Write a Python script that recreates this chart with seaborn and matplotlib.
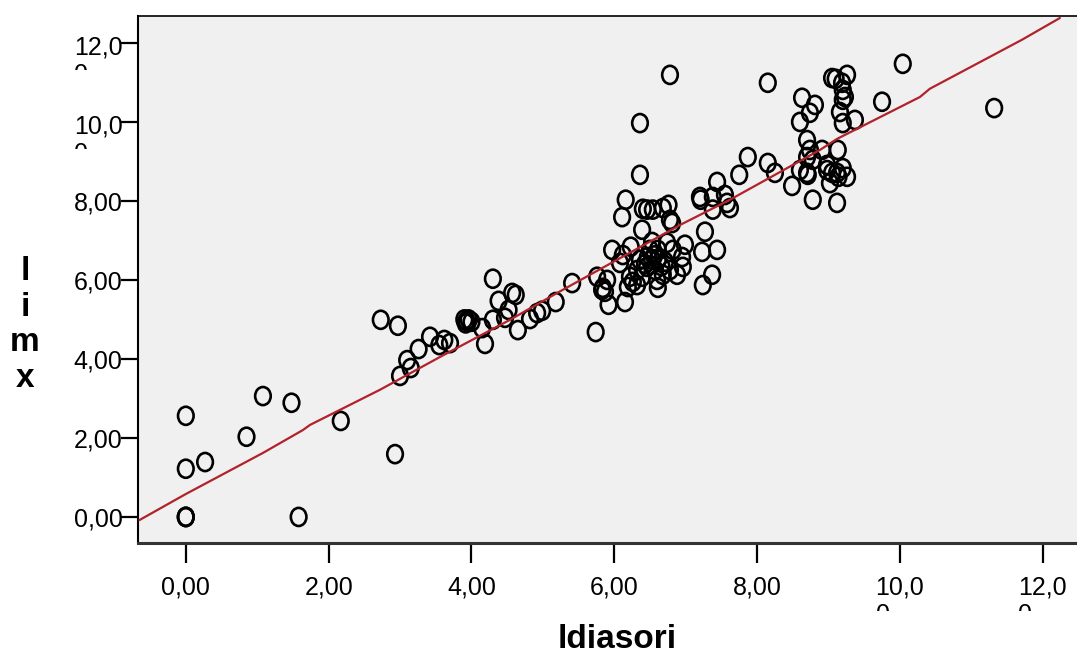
import matplotlib
matplotlib.use("Agg")
import matplotlib.pyplot as plt
import seaborn as sns
from matplotlib.path import Path
from matplotlib.transforms import Affine2D, Bbox, ScaledTranslation

# scatter values
ldiasori = [0.0, 0.0, 0.0, 1.58, 0.0, 0.27, 0.0, 0.85, 1.08, 1.48, 2.17, 2.93,
            2.73, 2.97, 3.0, 3.10, 3.15, 3.26, 3.42, 3.55, 3.62, 3.70,
            3.90, 3.93, 3.96, 3.92, 4.00, 4.15, 4.19, 4.30, 4.38, 4.30, 4.47,
            4.52, 4.57, 4.62, 4.65, 4.82, 4.92, 4.99, 5.18, 5.41, 5.74, 5.76,
            5.83, 5.87, 5.90, 5.92, 5.97,
            6.36, 6.16, 6.11, 6.40, 6.46, 6.54, 6.68, 6.76, 6.78, 6.81, 6.39,
            6.53, 6.23, 6.12, 6.08, 6.36, 6.50, 6.61, 6.74, 6.82, 6.99, 6.95,
            6.96, 6.78, 6.71, 6.61, 6.53, 6.46, 6.32, 6.22, 5.84, 6.15, 6.19,
            6.32, 6.39, 6.47, 6.57, 6.60, 6.61, 6.68, 6.88, 6.26, 6.43, 6.56,
            6.66,
            7.27, 7.23, 7.44, 7.37, 7.24, 7.20, 7.21, 7.44, 7.38, 7.55, 7.38,
            7.58, 7.62, 7.87, 7.75,
            8.15, 8.25, 8.49, 8.60, 8.70, 8.78, 9.12, 9.02, 9.26, 9.12, 8.98,
            9.20, 8.98, 9.05, 9.14, 8.71, 8.78, 8.70, 8.74, 8.70, 8.91, 9.13,
            8.15, 8.63, 8.81, 8.74, 8.60, 9.05, 9.10, 9.26, 9.19, 9.20, 9.23,
            9.20, 9.16, 9.20, 9.37, 9.75, 6.78, 6.36, 10.04, 11.32]
limx = [0.0, 0.0, 0.0, 0.0, 1.22, 1.39, 2.56, 2.03, 3.06, 2.89, 2.43, 1.59,
        4.99, 4.84, 3.57, 3.97, 3.77, 4.25, 4.56, 4.35, 4.48, 4.40,
        5.00, 4.96, 5.00, 4.90, 4.94, 4.78, 4.38, 6.03, 5.47, 4.99, 5.04,
        5.24, 5.67, 5.62, 4.73, 5.01, 5.16, 5.22, 5.44, 5.92, 4.68, 6.08,
        5.75, 5.70, 6.00, 5.37, 6.76,
        8.66, 8.03, 7.59, 7.80, 7.78, 7.78, 7.82, 7.90, 7.52, 7.44, 7.27,
        6.96, 6.84, 6.63, 6.43, 6.51, 6.76, 6.76, 6.94, 6.76, 6.89, 6.58,
        6.33, 6.25, 6.46, 6.51, 6.51, 6.33, 6.25, 6.08, 5.80, 5.44, 5.82,
        5.87, 6.08, 6.58, 6.25, 6.00, 5.80, 6.13, 6.13, 5.95, 6.40, 6.62,
        6.35,
        7.22, 6.71, 6.76, 6.13, 5.87, 8.10, 8.03, 8.48, 8.10, 8.15, 7.78,
        7.95, 7.82, 9.11, 8.66,
        8.96, 8.71, 8.38, 8.78, 8.71, 8.03, 7.95, 8.45, 8.61, 8.71, 8.78,
        8.83, 8.91, 8.71, 8.61, 8.66, 9.04, 9.11, 9.29, 9.54, 9.29, 9.29,
        10.99, 10.61, 10.43, 10.23, 10.00, 11.11, 11.09, 11.19, 10.99, 10.81, 10.63,
        10.56, 10.25, 9.97, 10.05, 10.51, 11.19, 9.97, 11.47, 10.35]

# fit line (loess-like)
fit_x = [-0.65, 0.0, 1.08, 1.64, 1.74, 2.72, 3.56, 4.54, 5.20, 6.04, 6.92,
         7.62, 8.88, 9.12, 10.28, 10.42, 11.71, 12.24]
fit_y = [-0.08, 0.58, 1.62, 2.20, 2.33, 3.22, 4.05, 4.99, 5.67, 6.51, 7.39,
         8.03, 9.29, 9.57, 10.63, 10.84, 12.08, 12.63]

ticks = [0, 2, 4, 6, 8, 10, 12]
tick_labels = ["0,00", "2,00", "4,00", "6,00", "8,00", "10,0\n0", "12,0\n0"]

sns.set_style("white")
plt.rcParams["font.family"] = ["Liberation Sans", "DejaVu Sans"]
plt.rcParams["text.color"] = "black"
plt.rcParams["xtick.color"] = "black"
plt.rcParams["ytick.color"] = "black"

fig = plt.figure(figsize=(10.77, 6.57), dpi=100)
ax = fig.add_axes([0.1281, 0.1735, 0.8719, 0.8021])
ax.set_facecolor("#f0f0f0")

# slightly tall open rings like the SPSS markers
ring = Path.unit_circle().transformed(Affine2D().scale(0.86, 1.0))
sns.scatterplot(x=ldiasori, y=limx, marker=ring, s=170, color="black",
                facecolor="none", edgecolor="black", linewidth=1.9,
                ax=ax, zorder=3)
sns.lineplot(x=fit_x, y=fit_y, sort=False, color="#b2222a", linewidth=1.6,
             ax=ax, zorder=4)

ax.set_xlim(-0.67, 12.48)
ax.set_ylim(-0.66, 12.68)
ax.set_xticks(ticks)
ax.set_xticklabels(tick_labels)
ax.set_yticks(ticks)
ax.set_yticklabels(tick_labels)
ax.tick_params(bottom=True, left=True)
ax.tick_params(axis="x", direction="out", length=14.4, width=1.6, pad=9,
               labelsize=18, colors="black")
ax.tick_params(axis="y", direction="out", length=12, width=1.6, pad=-1,
               labelsize=18, colors="black")
ax.set_xlabel("")
ax.set_ylabel("")

for name, lw, col in [("left", 1.5, "black"), ("top", 1.2, "black"),
                      ("bottom", 2.2, "#333333")]:
    ax.spines[name].set_visible(True)
    ax.spines[name].set_linewidth(lw)
    ax.spines[name].set_color(col)
ax.spines["right"].set_visible(False)

for lbl in ax.get_xticklabels() + ax.get_yticklabels():
    lbl.set_multialignment("left")

# two-line y labels: keep the first line centred on the tick
shift = ScaledTranslation(0, -39 / 100, fig.dpi_scale_trans)
for lbl in ax.get_yticklabels():
    if "\n" in lbl.get_text():
        lbl.set_verticalalignment("baseline")
        lbl.set_transform(lbl.get_transform() + shift)

fig.text(617 / 1077, 1 - 640 / 657, "ldiasori", ha="center", va="center",
         fontsize=24, fontweight="bold")
fig.text(25 / 1077, 1 - 325 / 657, "l\ni\nm\nx", ha="center", va="center",
         fontsize=24, fontweight="bold", linespacing=1.2)

# the wrapped labels are cut off after their first line, as in the original
fig.canvas.draw()
for lbl in ax.get_xticklabels() + ax.get_yticklabels():
    if "\n" in lbl.get_text():
        bb = lbl.get_window_extent()
        lbl.set_clip_box(Bbox.from_extents(bb.x0 - 5, bb.y1 - 35, bb.x1 + 5, bb.y1 + 5))
        lbl.set_clip_on(True)

fig.savefig("out.png", dpi=100)
